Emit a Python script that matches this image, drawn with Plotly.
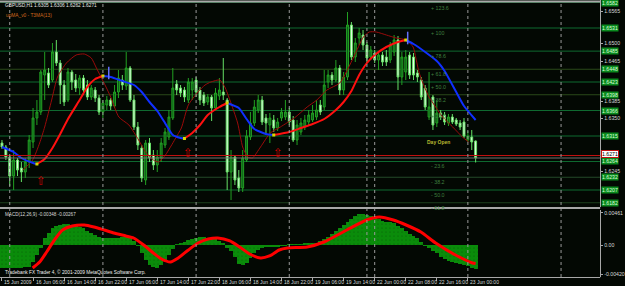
import plotly.graph_objects as go

W, H = 625, 286

# ---------------- data ----------------
bar_idx = list(range(123))
opens = [1.6301, 1.6293, 1.6273, 1.6235, 1.6267, 1.6251, 1.6243, 1.6263, 1.6303, 1.6351,
         1.6363, 1.6437, 1.6441, 1.6427, 1.6483, 1.6461, 1.6417, 1.6387, 1.6443, 1.6427,
         1.6411, 1.6431, 1.6417, 1.6393, 1.6407, 1.6391, 1.6363, 1.6377, 1.6387, 1.6375,
         1.6403, 1.6427, 1.6415, 1.6451, 1.6387, 1.6333, 1.6291, 1.6227, 1.6301, 1.6277,
         1.6257, 1.6271, 1.6297, 1.6313, 1.6351, 1.6419, 1.6411, 1.6407, 1.6387, 1.6407,
         1.6427, 1.6407, 1.6397, 1.6383, 1.6393, 1.6371, 1.6395, 1.6403, 1.6387, 1.6243,
         1.6273, 1.6231, 1.6211, 1.6267, 1.6313, 1.6341, 1.6367, 1.6387, 1.6351, 1.6337,
         1.6347, 1.6331, 1.6351, 1.6353, 1.6363, 1.6347, 1.6307, 1.6323, 1.6333, 1.6343,
         1.6347, 1.6353, 1.6377, 1.6373, 1.6423, 1.6437, 1.6427, 1.6451, 1.6407, 1.6433,
         1.6537, 1.6473, 1.6511, 1.6517, 1.6497, 1.6473, 1.6481, 1.6467, 1.6477, 1.6473,
         1.6467, 1.6483, 1.6507, 1.6433, 1.6443, 1.6477, 1.6473, 1.6441, 1.6427, 1.6411,
         1.6353, 1.6393, 1.6341, 1.6361, 1.6357, 1.6341, 1.6353, 1.6347, 1.6341, 1.6343,
         1.6307, 1.6313, 1.6305]
highs = [1.6307, 1.6297, 1.6277, 1.6287, 1.6271, 1.6263, 1.6271, 1.6317, 1.6371, 1.6387,
         1.6447, 1.6483, 1.6451, 1.6501, 1.6507, 1.6467, 1.6427, 1.6451, 1.6447, 1.6439,
         1.6437, 1.6437, 1.6427, 1.6417, 1.6413, 1.6397, 1.6387, 1.6395, 1.6391, 1.6417,
         1.6447, 1.6437, 1.6483, 1.6455, 1.6397, 1.6343, 1.6297, 1.6307, 1.6311, 1.6287,
         1.6287, 1.6311, 1.6331, 1.6367, 1.6451, 1.6427, 1.6417, 1.6413, 1.6431, 1.6431,
         1.6433, 1.6413, 1.6403, 1.6399, 1.6397, 1.6411, 1.6431, 1.6471, 1.6391, 1.6287,
         1.6277, 1.6247, 1.6287, 1.6327, 1.6363, 1.6387, 1.6397, 1.6395, 1.6359, 1.6361,
         1.6357, 1.6351, 1.6371, 1.6387, 1.6371, 1.6355, 1.6347, 1.6351, 1.6357, 1.6367,
         1.6377, 1.6387, 1.6387, 1.6447, 1.6447, 1.6443, 1.6467, 1.6457, 1.6443, 1.6563,
         1.6543, 1.6511, 1.6531, 1.6527, 1.6503, 1.6495, 1.6487, 1.6483, 1.6483, 1.6487,
         1.6503, 1.6517, 1.6515, 1.6483, 1.6487, 1.6483, 1.6481, 1.6447, 1.6433, 1.6417,
         1.6443, 1.6397, 1.6387, 1.6367, 1.6363, 1.6359, 1.6359, 1.6351, 1.6347, 1.6351,
         1.6325, 1.6327, 1.6306]
lows = [1.6289, 1.6267, 1.6215, 1.6207, 1.6235, 1.6223, 1.6231, 1.6251, 1.6291, 1.6337,
        1.6357, 1.6387, 1.6411, 1.6423, 1.6455, 1.6379, 1.6375, 1.6383, 1.6407, 1.6403,
        1.6397, 1.6397, 1.6387, 1.6387, 1.6383, 1.6357, 1.6351, 1.6367, 1.6367, 1.6371,
        1.6391, 1.6407, 1.6407, 1.6383, 1.6327, 1.6287, 1.6223, 1.6217, 1.6263, 1.6247,
        1.6243, 1.6263, 1.6291, 1.6307, 1.6347, 1.6397, 1.6393, 1.6383, 1.6381, 1.6387,
        1.6393, 1.6377, 1.6375, 1.6377, 1.6345, 1.6367, 1.6387, 1.6387, 1.6207, 1.6187,
        1.6217, 1.6203, 1.6203, 1.6263, 1.6307, 1.6335, 1.6361, 1.6337, 1.6317, 1.6301,
        1.6323, 1.6325, 1.6345, 1.6347, 1.6337, 1.6303, 1.6297, 1.6317, 1.6327, 1.6337,
        1.6343, 1.6347, 1.6357, 1.6367, 1.6411, 1.6417, 1.6423, 1.6397, 1.6397, 1.6427,
        1.6467, 1.6463, 1.6497, 1.6487, 1.6461, 1.6467, 1.6461, 1.6447, 1.6455, 1.6455,
        1.6461, 1.6475, 1.6407, 1.6417, 1.6427, 1.6429, 1.6427, 1.6423, 1.6387, 1.6367,
        1.6347, 1.6327, 1.6333, 1.6347, 1.6337, 1.6335, 1.6339, 1.6335, 1.6327, 1.6311,
        1.6303, 1.6287, 1.6262]
closes = [1.6293, 1.6273, 1.6235, 1.6267, 1.6247, 1.6243, 1.6263, 1.6307, 1.6351, 1.6363,
          1.6443, 1.6447, 1.6417, 1.6483, 1.6461, 1.6417, 1.6383, 1.6443, 1.6423, 1.6411,
          1.6431, 1.6407, 1.6393, 1.6411, 1.6391, 1.6363, 1.6381, 1.6387, 1.6375, 1.6403,
          1.6431, 1.6417, 1.6451, 1.6387, 1.6333, 1.6297, 1.6231, 1.6301, 1.6271, 1.6257,
          1.6273, 1.6301, 1.6323, 1.6353, 1.6411, 1.6407, 1.6401, 1.6393, 1.6423, 1.6423,
          1.6403, 1.6387, 1.6381, 1.6393, 1.6371, 1.6401, 1.6407, 1.6397, 1.6243, 1.6273,
          1.6227, 1.6211, 1.6271, 1.6315, 1.6341, 1.6373, 1.6387, 1.6343, 1.6341, 1.6351,
          1.6331, 1.6343, 1.6363, 1.6363, 1.6343, 1.6307, 1.6337, 1.6341, 1.6347, 1.6357,
          1.6361, 1.6367, 1.6363, 1.6417, 1.6437, 1.6427, 1.6451, 1.6407, 1.6433, 1.6537,
          1.6473, 1.6501, 1.6521, 1.6497, 1.6471, 1.6487, 1.6467, 1.6477, 1.6463, 1.6463,
          1.6497, 1.6507, 1.6433, 1.6473, 1.6473, 1.6437, 1.6437, 1.6433, 1.6393, 1.6373,
          1.6373, 1.6337, 1.6361, 1.6353, 1.6343, 1.6353, 1.6343, 1.6339, 1.6333, 1.6315,
          1.6315, 1.6303, 1.6271]

# T3MA(13) (thick, colour by slope)
t3_x = [0, 3, 5, 8, 9, 11, 13, 15, 17, 20, 22, 24, 26, 28, 31, 34, 36, 38, 40, 42, 44, 46,
        47, 49, 51, 53, 56, 58, 61, 63, 65, 68, 70, 74, 77, 80, 83, 86, 88, 90, 92, 94, 96,
        99, 102, 104, 106, 109, 112, 114, 117, 119, 122]
t3_v = [1.6293, 1.6283, 1.6271, 1.6261, 1.6259, 1.6269, 1.6291, 1.6319, 1.6349, 1.6387,
        1.6413, 1.6429, 1.6435, 1.6433, 1.6425, 1.6417, 1.6403, 1.6383, 1.6365, 1.6341,
        1.6317, 1.6311, 1.6310, 1.6321, 1.6337, 1.6357, 1.6373, 1.6381, 1.6371, 1.6349,
        1.6329, 1.6319, 1.6317, 1.6323, 1.6331, 1.6339, 1.6349, 1.6367, 1.6383, 1.6405,
        1.6437, 1.6461, 1.6477, 1.6493, 1.6503, 1.6507, 1.6499, 1.6483, 1.6465, 1.6445,
        1.6403, 1.6375, 1.6347]

# small blue top markers
top_mark_x = [27.5, 104.5]
top_mark_p = [1.6441, 1.6511]

# thin dark-red moving average
ma_x = [5.4, 7.9, 9.7, 11.0, 12.8, 14.3, 16.6, 19.1, 21.2, 23.0, 24.2, 25.5, 26.8, 28.0,
        30.1, 32.7, 35.2, 37.0, 39.0, 40.3, 42.1, 44.6, 46.2, 48.0, 50.5, 52.3, 53.8, 56.1,
        57.4, 58.7, 60.7, 62.0, 63.3, 64.5, 66.6, 69.1, 71.7, 75.3, 78.6, 81.1, 83.7, 87.0,
        90.6, 93.1, 94.6, 96.4, 99.0, 101.5, 104.1, 105.9, 106.6, 107.4, 108.4, 110.0,
        111.7, 113.5, 116.1, 118.6, 120.2]
ma_v = [1.6247, 1.6267, 1.6301, 1.6333, 1.6387, 1.6433, 1.6461, 1.6477, 1.6479, 1.6471,
        1.6453, 1.6433, 1.6413, 1.6393, 1.6353, 1.6337, 1.6307, 1.6283, 1.6267, 1.6263,
        1.6277, 1.6309, 1.6331, 1.6377, 1.6403, 1.6417, 1.6423, 1.6427, 1.6413, 1.6387,
        1.6341, 1.6293, 1.6273, 1.6271, 1.6293, 1.6321, 1.6333, 1.6351, 1.6373, 1.6387,
        1.6407, 1.6421, 1.6473, 1.6513, 1.6523, 1.6523, 1.6517, 1.6511, 1.6507, 1.6493,
        1.6471, 1.6443, 1.6421, 1.6393, 1.6373, 1.6353, 1.6333, 1.6313, 1.6303]

# MACD(12,26,9)
macd_hist = [-0.0033, -0.0033, -0.0033, -0.0033, -0.0033, -0.0033, -0.0032, -0.0032, -0.0024,
             -0.0014, -0.0004, 0.0010, 0.0017, 0.0024, 0.0027, 0.0029, 0.0030, 0.0030, 0.0029,
             0.0027, 0.0026, 0.0024, 0.0020, 0.0017, 0.0014, 0.0012, 0.0010, 0.0010, 0.0010,
             0.0010, 0.0010, 0.0012, 0.0012, 0.0010, 0.0006, -0.0001, -0.0012, -0.0022, -0.0029,
             -0.0032, -0.0033, -0.0029, -0.0023, -0.0014, -0.0006, 0.0001, 0.0003, 0.0004,
             0.0007, 0.0009, 0.0010, 0.0012, 0.0012, 0.0010, 0.0010, 0.0009, 0.0006, 0.0003,
             -0.0004, -0.0009, -0.0017, -0.0027, -0.0029, -0.0026, -0.0019, -0.0012, -0.0007,
             -0.0004, -0.0003, -0.0003, -0.0002, -0.0002, -0.0001, -0.0001, 0.0001, 0.0001,
             0.0001, 0.0001, 0.0002, 0.0002, 0.0003, 0.0003, 0.0006, 0.0009, 0.0012, 0.0016,
             0.0020, 0.0024, 0.0029, 0.0033, 0.0037, 0.0042, 0.0045, 0.0045, 0.0043, 0.0042,
             0.0040, 0.0037, 0.0035, 0.0033, 0.0033, 0.0032, 0.0027, 0.0024, 0.0020, 0.0016,
             0.0013, 0.0010, 0.0004, -0.0001, -0.0004, -0.0009, -0.0012, -0.0017, -0.0020,
             -0.0023, -0.0024, -0.0026, -0.0027, -0.0029, -0.0030, -0.0033, -0.00348]
sig_x = [7.9, 9.7, 11.5, 13.5, 15.6, 18.1, 21.2, 23.7, 26.3, 28.8, 31.9, 33.9, 36.5, 39.0,
         41.1, 43.4, 45.4, 48.0, 50.5, 53.1, 55.6, 58.7, 61.2, 63.8, 66.6, 68.9, 71.4, 73.5,
         78.6, 82.9, 88.8, 93.9, 97.2, 100.8, 104.1, 107.9, 111.7, 116.8, 121.2, 122.0]
sig_v = [-0.00331, -0.00245, -0.00101, 0.00072, 0.00216, 0.00274, 0.00288, 0.00259, 0.00216,
         0.00173, 0.00130, 0.00101, 0.0, -0.00115, -0.00202, -0.00245, -0.00187, -0.00072,
         0.00029, 0.00086, 0.00101, 0.00058, -0.00029, -0.00130, -0.00187, -0.00158,
         -0.00072, -0.00043, -0.00029, 0.00043, 0.00216, 0.00360, 0.00403, 0.00360, 0.00288,
         0.00187, 0.00029, -0.00144, -0.00259, -0.00267]

# Fibonacci levels from the day open
fib_open = 1.6315
fib_range = 0.0216
fib_ratios = [1.236, 1.0, 0.786, 0.618, 0.5, 0.382, 0.236, 0.0, -0.236, -0.382, -0.5, -0.618]
fib_names = ["+ 123.6", "+ 100", "+ 78.6", "+ 61.8", "+ 50.0", "+ 38.2", "+ 23.6", "Day Open",
             "- 23.6", "- 38.2", "- 50.0", "- 61.8"]

arrow_x = [10, 48, 71]
arrow_p = [1.6225, 1.6281, 1.6281]

bid_price = 1.6271
ask_price = 1.6276

price_ticks = [1.6565, 1.6500, 1.6465, 1.6385, 1.6350, 1.6245]
macd_ticks = [0.00461, 0.0, -0.00420]
macd_tick_text = ["0.00461", "0.00", "-0.00420"]

time_idx = [0, 8, 16, 24, 32, 40, 48, 56, 64, 72, 80, 88, 96, 104, 112, 120]
time_text = ["15 Jun 2009", "16 Jun 06:00", "16 Jun 14:00", "16 Jun 22:00", "17 Jun 06:00",
             "17 Jun 14:00", "17 Jun 22:00", "18 Jun 06:00", "18 Jun 14:00", "18 Jun 22:00",
             "19 Jun 06:00", "19 Jun 14:00", "22 Jun 00:00", "22 Jun 08:00", "22 Jun 16:00",
             "23 Jun 00:00"]
day_sep = [2, 26, 50, 74, 94, 96, 120, 144]

# ---------------- layout helpers ----------------
BG = "#030803"
FONT = "Liberation Sans"
def px(x):
    return x / W
def py(y):
    return 1 - y / H

XR = [-0.51, 154.08]
PLOT_R = 606

fig = go.Figure()

# candles
fig.add_trace(go.Candlestick(
    x=bar_idx, open=opens, high=highs, low=lows, close=closes,
    increasing=dict(line=dict(color="#22a022", width=1), fillcolor="#0b5a1a"),
    decreasing=dict(line=dict(color="#66e066", width=1), fillcolor="#eefff0"),
    whiskerwidth=0, hoverinfo="skip", showlegend=False, xaxis="x", yaxis="y"))

# thin MA
fig.add_trace(go.Scatter(x=ma_x, y=ma_v, mode="lines",
                         line=dict(color="#9a0a0a", width=1, shape="spline", smoothing=0.6),
                         hoverinfo="skip", showlegend=False, xaxis="x", yaxis="y"))

# T3 MA coloured by slope
seg_x, seg_y, cur = [t3_x[0]], [t3_v[0]], None
segments = []
for k in range(1, len(t3_x)):
    d = "up" if t3_v[k] >= t3_v[k - 1] else "down"
    if cur is None or d == cur:
        seg_x.append(t3_x[k]); seg_y.append(t3_v[k]); cur = d
    else:
        segments.append((cur, seg_x, seg_y))
        seg_x, seg_y, cur = [t3_x[k - 1], t3_x[k]], [t3_v[k - 1], t3_v[k]], d
segments.append((cur, seg_x, seg_y))
for d, sx, sy in segments:
    fig.add_trace(go.Scatter(x=sx, y=sy, mode="lines",
                             line=dict(color="#ff1010" if d == "up" else "#1030ff", width=2,
                                       shape="spline", smoothing=0.5),
                             hoverinfo="skip", showlegend=False, xaxis="x", yaxis="y"))
turn_x = [sx[0] for d, sx, sy in segments[1:]]
turn_y = [sy[0] for d, sx, sy in segments[1:]]
fig.add_trace(go.Scatter(x=turn_x, y=turn_y, mode="markers",
                         marker=dict(color="#d8d800", size=3, symbol="square"),
                         hoverinfo="skip", showlegend=False, xaxis="x", yaxis="y"))
fig.add_trace(go.Scatter(x=top_mark_x, y=top_mark_p, mode="markers",
                         marker=dict(symbol="line-ns-open", size=9,
                                     line=dict(color="#1820b0", width=1.5)),
                         hoverinfo="skip", showlegend=False, xaxis="x", yaxis="y"))

# MACD histogram + signal
fig.add_trace(go.Bar(x=bar_idx, y=macd_hist, width=1.0,
                     marker=dict(color="#0a8c0a", line=dict(width=0),
                                 pattern=dict(shape=".", fgcolor="#056005", size=4,
                                              solidity=0.15, fillmode="overlay")),
                     hoverinfo="skip", showlegend=False, xaxis="x2", yaxis="y2"))
fig.add_trace(go.Scatter(x=sig_x, y=sig_v, mode="lines",
                         line=dict(color="#ff0000", width=3, shape="spline", smoothing=0.6),
                         hoverinfo="skip", showlegend=False, xaxis="x2", yaxis="y2"))

shapes = []
annotations = []

# fib level lines
fib_prices = [fib_open + r * fib_range for r in fib_ratios]
fib_cols = ["#0e5e2a", "#0f6a30", "#0f6a30", "#2b4a1a", "#0f6a30", "#2b4a1a", "#0f6a30",
            "#0f6a30", "#0f6a30", "#244a2a", "#0f6a30", "#1d3f1d"]
for p, c in zip(fib_prices, fib_cols):
    shapes.append(dict(type="line", xref="paper", yref="y", x0=0, x1=px(PLOT_R), y0=p, y1=p,
                       line=dict(color=c, width=1), layer="below"))
for p, name in zip(fib_prices, fib_names):
    if name == "Day Open":
        annotations.append(dict(x=109.0, y=p, xref="x", yref="y", text="<b>Day Open</b>",
                                showarrow=False, xanchor="left", yanchor="top", yshift=-1,
                                font=dict(family=FONT, size=5, color="#b8b830")))
    else:
        annotations.append(dict(x=110.0, y=p, xref="x", yref="y", text=name,
                                showarrow=False, xanchor="left", yanchor="top",
                                font=dict(family=FONT, size=5.3, color="#3f7f3f")))
    annotations.append(dict(x=px(607), y=p, xref="paper", yref="y", text=f"{p:.4f}",
                            showarrow=False, xanchor="left", yanchor="middle",
                            bgcolor="#0a8a1e", borderpad=0,
                            font=dict(family=FONT, size=5.2, color="#d8ffd8")))

# ask / bid lines
shapes.append(dict(type="line", xref="paper", yref="y", x0=0, x1=px(PLOT_R),
                   y0=ask_price, y1=ask_price, line=dict(color="#c01010", width=1)))
shapes.append(dict(type="line", xref="paper", yref="y", x0=0, x1=px(PLOT_R),
                   y0=bid_price, y1=bid_price, line=dict(color="#707070", width=1)))
annotations.append(dict(x=px(607), y=bid_price, xref="paper", yref="y", text=f"{bid_price:.4f}",
                        showarrow=False, xanchor="left", yanchor="bottom", bgcolor="#ffffff",
                        bordercolor="#c01010", borderwidth=1, borderpad=0,
                        font=dict(family=FONT, size=5.2, color="#000000")))

# day separators
for s in day_sep:
    shapes.append(dict(type="line", xref="x", yref="paper", x0=s, x1=s, y0=py(277), y1=py(2),
                       line=dict(color="#9a9a9a", width=1, dash="dot")))

# pane borders
for yy, w in [(1.5, 2), (208, 2), (277.5, 1)]:
    shapes.append(dict(type="line", xref="paper", yref="paper", x0=0, x1=px(PLOT_R),
                       y0=py(yy), y1=py(yy), line=dict(color="#a8a8a8", width=w)))

# arrows
for ax_, ap in zip(arrow_x, arrow_p):
    annotations.append(dict(x=ax_, y=ap, xref="x", yref="y", text="⇧", showarrow=False,
                            font=dict(family="DejaVu Sans", size=12, color="#d00000")))

# texts
annotations += [
    dict(x=px(3), y=py(5), xref="paper", yref="paper", text="GBPUSD,H1 1.6305 1.6306 1.6262 1.6271",
         showarrow=False, xanchor="left", yanchor="middle",
         font=dict(family=FONT, size=4.8, color="#e8e8e8")),
    dict(x=px(4), y=py(15), xref="paper", yref="paper", text="upMA_v0 - T3MA(13)",
         showarrow=False, xanchor="left", yanchor="middle",
         font=dict(family=FONT, size=4.8, color="#d2691e")),
    dict(x=px(3), y=py(214), xref="paper", yref="paper", text="MACD(12,26,9) -0.00348 -0.00267",
         showarrow=False, xanchor="left", yanchor="middle",
         font=dict(family=FONT, size=4.6, color="#d8d8d8")),
    dict(x=px(3), y=py(272), xref="paper", yref="paper",
         text="Tradebank FX Trader 4, © 2001-2009 MetaQuotes Software Corp.",
         showarrow=False, xanchor="left", yanchor="middle",
         font=dict(family=FONT, size=4.8, color="#f0f0f0")),
]
for ti, tt in zip(time_idx, time_text):
    annotations.append(dict(x=ti, y=py(281.5), xref="x2", yref="paper", text=tt, showarrow=False,
                            xanchor="left", yanchor="middle", xshift=0.5,
                            font=dict(family=FONT, size=5, color="#d8d8d8")))

fig.update_layout(
    width=W, height=H, margin=dict(l=0, r=0, t=0, b=0),
    paper_bgcolor=BG, plot_bgcolor=BG, showlegend=False, bargap=0,
    shapes=shapes, annotations=annotations,
    xaxis=dict(domain=[0, px(PLOT_R)], range=XR, anchor="y", showgrid=False, zeroline=False,
               showticklabels=False, rangeslider=dict(visible=False), fixedrange=True),
    yaxis=dict(domain=[py(207), py(0)], range=[1.6587 - 0.0002 * 207, 1.6587], anchor="x",
               side="right", showgrid=False, zeroline=False, tickvals=price_ticks,
               ticktext=[f"{v:.4f}" for v in price_ticks], ticks="outside", ticklen=2,
               tickcolor="#a8a8a8", showline=True, linecolor="#a8a8a8", linewidth=1,
               tickfont=dict(family=FONT, size=5.2, color="#d8d8d8"), fixedrange=True),
    xaxis2=dict(domain=[0, px(PLOT_R)], range=XR, anchor="y2", showgrid=False, zeroline=False,
                tickvals=time_idx, ticks="outside", ticklen=3, tickcolor="#a8a8a8",
                showticklabels=False, showline=False, fixedrange=True),
    yaxis2=dict(domain=[py(277), py(210)], range=[-0.004608, 0.00504], anchor="x2",
                side="right", showgrid=False, zeroline=False, tickvals=macd_ticks,
                ticktext=macd_tick_text, ticks="outside", ticklen=2, tickcolor="#a8a8a8",
                showline=True, linecolor="#a8a8a8", linewidth=1,
                tickfont=dict(family=FONT, size=5.2, color="#d8d8d8"), fixedrange=True),
)

fig.write_html("out.html")
